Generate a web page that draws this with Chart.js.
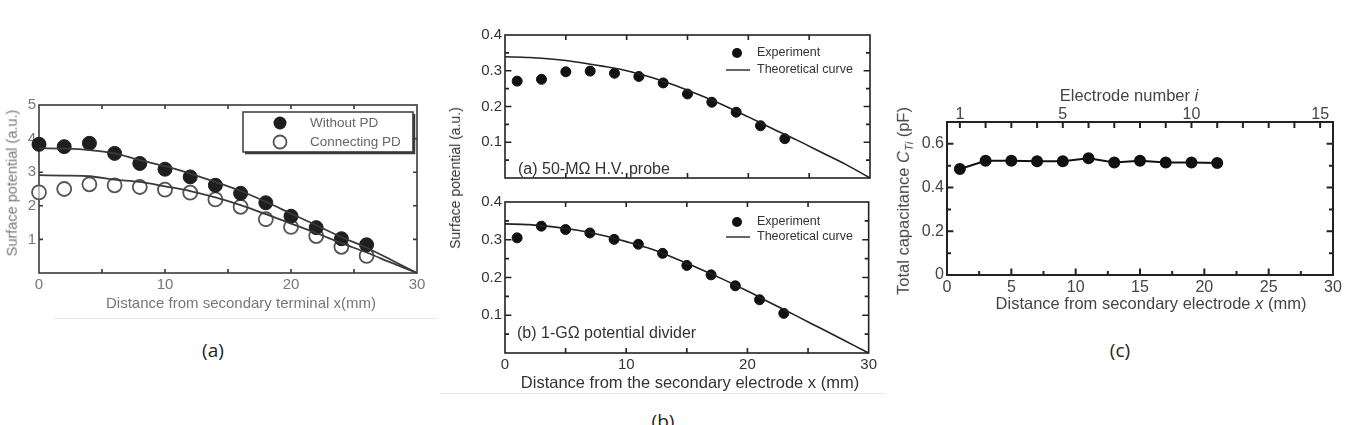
<!DOCTYPE html>
<html><head><meta charset="utf-8">
<script src="https://cdn.jsdelivr.net/npm/chart.js@4.4.1/dist/chart.umd.min.js"></script>
<style>
body{margin:0;background:#fff;width:1356px;height:425px;overflow:hidden;position:relative;font-family:"Liberation Sans",Arial,sans-serif;}
canvas{position:absolute;}
.t{position:absolute;white-space:nowrap;transform:translate(-50%,-50%);line-height:1;}
.rot{transform:translate(-50%,-50%) rotate(-90deg);}
.cap{font-family:"Open Sans",sans-serif;font-size:19px;color:#222;}
.hl{position:absolute;height:0;border-top:1px solid #e8e8e8;}
</style></head><body>
<div class="hl" style="left:53px;top:318px;width:384px"></div>
<div class="hl" style="left:440px;top:393px;width:445px"></div>
<canvas id="ca" width="430" height="230" style="left:0;top:90px"></canvas>
<canvas id="cb1" width="450" height="170" style="left:430px;top:20px"></canvas>
<canvas id="cb2" width="450" height="205" style="left:430px;top:190px"></canvas>
<canvas id="cc" width="456" height="235" style="left:890px;top:80px"></canvas>

<div class="t" style="left:241px;top:302px;font-size:15px;color:#777">Distance from secondary terminal x(mm)</div>
<div class="t rot" style="left:12px;top:183px;font-size:14.5px;color:#777">Surface potential (a.u.)</div>
<div class="t rot" style="left:455px;top:178px;font-size:14px;color:#333">Surface potential (a.u.)</div>
<div class="t" style="left:690px;top:382px;font-size:16.5px;color:#333">Distance from the secondary electrode x (mm)</div>
<div class="t" style="left:1151px;top:303px;font-size:16.5px;color:#444">Distance from secondary electrode <i>x</i> (mm)</div>
<div class="t rot" style="left:905px;top:201px;font-size:16.5px;color:#444">Total capacitance <i>C</i><sub style="font-size:11px"><i>Ti</i></sub> (pF)</div>
<div class="t" style="left:1129px;top:95px;font-size:16.5px;color:#444">Electrode number <i>i</i></div>
<div class="t cap" style="left:213px;top:350px">(a)</div>
<div class="t cap" style="left:663px;top:421px">(b)</div>
<div class="t cap" style="left:1120px;top:350px">(c)</div>

<script>
// ---- Data ----
const distA = [0,2,4,6,8,10,12,14,16,18,20,22,24,26];
const withoutPD = [3.83,3.76,3.86,3.56,3.26,3.09,2.86,2.61,2.37,2.09,1.69,1.35,1.02,0.84];
const connectingPD = [2.40,2.50,2.64,2.61,2.56,2.48,2.39,2.19,1.97,1.60,1.37,1.10,0.78,0.51];
const curveDistA = [0,2,4,6,8,10,12,14,16,18,20,22,24,26,28,30];
const curveWithoutPD = [3.71,3.70,3.66,3.56,3.36,3.18,2.96,2.71,2.44,2.12,1.77,1.42,1.07,0.75,0.38,0];
const curveConnectingPD = [2.91,2.90,2.88,2.78,2.71,2.58,2.44,2.25,2.02,1.75,1.47,1.19,0.89,0.61,0.30,0];

const distB = [1,3,5,7,9,11,13,15,17,19,21,23];
const expProbe = [0.271,0.276,0.297,0.299,0.293,0.284,0.266,0.235,0.212,0.184,0.146,0.110];
const expDivider = [0.305,0.336,0.327,0.318,0.301,0.288,0.264,0.232,0.207,0.178,0.141,0.105];
const curveDistB = [0,2,4,6,8,10,12,14,16,18,20,22,24,26,28,30];
const theoryProbe = [0.339,0.337,0.332,0.324,0.313,0.300,0.282,0.259,0.232,0.203,0.171,0.138,0.106,0.072,0.038,0];
const theoryDivider = [0.342,0.340,0.334,0.325,0.312,0.295,0.276,0.251,0.224,0.195,0.164,0.131,0.099,0.066,0.033,0];

const distC = [1,3,5,7,9,11,13,15,17,19,21];
const capacitance = [0.485,0.523,0.523,0.520,0.520,0.534,0.515,0.523,0.515,0.515,0.512];

const xTicksA = [0,10,20,30];
const yTicksA = [1,2,3,4,5];
const xTicksB = [0,10,20,30];
const yTicksB = [0.1,0.2,0.3,0.4];
const xTicksC = [0,5,10,15,20,25,30];
const yTicksC = [0,0.2,0.4,0.6];
const electrodeTicks = [1,5,10,15];

const pts = (xs, ys) => xs.map((x,i)=>({x, y: ys[i]}));
const range = (a,b,s) => { const r=[]; for(let v=a; v<=b+1e-9; v+=s) r.push(+v.toFixed(4)); return r; };

// ---- Plugins ----
const framePlugin = {
  id:'frame',
  beforeDatasetsDraw(chart, args, o){
    if(!o || !o.color) return;
    const {ctx, chartArea:a} = chart;
    ctx.save();
    ctx.strokeStyle = o.color; ctx.lineWidth = o.lw;
    ctx.beginPath();
    (o.marks||[]).forEach(m=>{
      const s = chart.scales[m.scale];
      m.vals.forEach(v=>{
        const p = s.getPixelForValue(v);
        const len = (m.major && m.major.some(q=>Math.abs(q-v)<1e-6)) ? m.len*1.6 : m.len;
        if (s.isHorizontal()){
          if (m.edges.includes('b')){ ctx.moveTo(p,a.bottom); ctx.lineTo(p,a.bottom-len); }
          if (m.edges.includes('t')){ ctx.moveTo(p,a.top); ctx.lineTo(p,a.top+len); }
        } else {
          if (m.edges.includes('l')){ ctx.moveTo(a.left,p); ctx.lineTo(a.left+len,p); }
          if (m.edges.includes('r')){ ctx.moveTo(a.right,p); ctx.lineTo(a.right-len,p); }
        }
      });
    });
    ctx.stroke();
    ctx.strokeRect(a.left, a.top, a.right-a.left, a.bottom-a.top);
    ctx.restore();
  }
};
const notePlugin = {
  id:'note',
  afterDatasetsDraw(chart, args, o){
    if(!o || !o.items) return;
    const ctx = chart.ctx;
    ctx.save();
    if (o.box){
      const b=o.box;
      ctx.fillStyle='#fff'; ctx.fillRect(b[0],b[1],b[2],b[3]);
      ctx.strokeStyle=o.boxColor; ctx.lineWidth=1.5; ctx.strokeRect(b[0],b[1],b[2],b[3]);
      ctx.lineWidth=2.5; ctx.beginPath();
      ctx.moveTo(b[0]+2,b[1]+b[3]+1); ctx.lineTo(b[0]+b[2]+1,b[1]+b[3]+1); ctx.lineTo(b[0]+b[2]+1,b[1]+2); ctx.stroke();
    }
    o.items.forEach(it=>{
      if (it.sym==='dot' || it.sym==='ring'){
        ctx.beginPath(); ctx.arc(it.sx, it.y, it.r, 0, Math.PI*2);
        if (it.sym==='dot'){ ctx.fillStyle=it.color; ctx.fill(); }
        else { ctx.strokeStyle=it.color; ctx.lineWidth=1.8; ctx.stroke(); }
      } else if (it.sym==='line'){
        ctx.beginPath(); ctx.moveTo(it.sx-it.r, it.y); ctx.lineTo(it.sx+it.r, it.y);
        ctx.strokeStyle=it.color; ctx.lineWidth=1.5; ctx.stroke();
      }
      if (it.text){
        ctx.font = it.font; ctx.fillStyle = it.textColor; ctx.textBaseline='middle'; ctx.textAlign='left';
        ctx.fillText(it.text, it.tx, it.y);
      }
    });
    ctx.restore();
  }
};
Chart.register(framePlugin, notePlugin);

// ---- Builder ----
function axis(pos, min, max, vals, size, font, color, fmt, extra){
  return Object.assign({
    type:'linear', position:pos, min, max,
    grid:{display:false, drawTicks:false}, border:{display:false},
    afterBuildTicks: s => { s.ticks = vals.map(v=>({value:v})); },
    afterFit: s => { if (pos==='left'||pos==='right') s.width=size; else s.height=size; },
    ticks:{ autoSkip:false, maxRotation:0, minRotation:0, padding:(pos==='top'?-2:3), color, font, callback: fmt }
  }, extra||{});
}
function make(id, box, area, datasets, scales, plugins, hasTop){
  return new Chart(document.getElementById(id), {
    type:'scatter',
    data:{datasets},
    options:{
      responsive:false, animation:false, events:[],
      layout:{padding:{left:0, top: hasTop?0:(area.T-box.top), right: box.left+box.w-area.R, bottom:0}},
      scales,
      plugins: Object.assign({legend:{display:false}, tooltip:{enabled:false}}, plugins)
    }
  });
}

// ---- Panel (a) ----
{
  const box={left:0, top:90, w:430, h:230}, area={L:39, T:105, R:417, B:273};
  const f={family:'Liberation Sans', size:15}, c='#777';
  make('ca', box, area, [
    {data:pts(curveDistA, curveWithoutPD), showLine:true, pointRadius:0, borderColor:'#3a3a3a', borderWidth:1.8, cubicInterpolationMode:'monotone', clip:false},
    {data:pts(curveDistA, curveConnectingPD), showLine:true, pointRadius:0, borderColor:'#3a3a3a', borderWidth:1.8, cubicInterpolationMode:'monotone', clip:false},
    {label:'Without PD', data:pts(distA, withoutPD), pointRadius:7, backgroundColor:'#1e1e1e', borderColor:'#1e1e1e', borderWidth:1, clip:false},
    {label:'Connecting PD', data:pts(distA, connectingPD), pointRadius:7, backgroundColor:'rgba(255,255,255,0.6)', borderColor:'#555', borderWidth:1.8, clip:false}
  ], {
    x: axis('bottom',0,30,xTicksA, box.top+box.h-area.B, f, c, v=>String(v)),
    y: axis('left',0,5,yTicksA, area.L-box.left, f, c, v=>String(v))
  }, {
    frame:{color:'#3a3a3a', lw:1.6, marks:[
      {scale:'x', vals:range(5,25,5), len:4, edges:['b','t']},
      {scale:'y', vals:range(1,4,1), len:4, edges:['l','r']}
    ]},
    note:{box:[243,22,170,40], boxColor:'#3a3a3a', items:[
      {sym:'dot', sx:280, y:33, r:6.5, color:'#1e1e1e', text:'Without PD', tx:310, font:'13.5px "Liberation Sans"', textColor:'#666'},
      {sym:'ring', sx:280, y:52, r:6.5, color:'#555', text:'Connecting PD', tx:310, font:'13.5px "Liberation Sans"', textColor:'#666'}
    ]}
  });
}

// ---- Panel (b) top ----
{
  const box={left:430, top:20, w:450, h:170}, area={L:505, T:35, R:870, B:186};
  const f={family:'Liberation Sans', size:15}, c='#333';
  make('cb1', box, area, [
    {label:'Theoretical curve', data:pts(curveDistB, theoryProbe), showLine:true, pointRadius:0, borderColor:'#222', borderWidth:1.6, cubicInterpolationMode:'monotone', clip:false},
    {label:'Experiment', data:pts(distB, expProbe), pointRadius:5, backgroundColor:'#111', borderColor:'#111', clip:false}
  ], {
    x: axis('bottom',0,30,[], box.top+box.h-area.B, f, c, v=>'', {ticks:{display:false}}),
    y: axis('left',0,0.4,yTicksB, area.L-box.left, f, c, v=>v.toFixed(1))
  }, {
    frame:{color:'#222', lw:1.6, marks:[
      {scale:'x', vals:range(5,25,5), len:5, edges:['b','t']},
      {scale:'y', vals:range(0.05,0.35,0.05), major:[0.1,0.2,0.3], len:4, edges:['l','r']}
    ]},
    note:{items:[
      {sym:'dot', sx:307, y:33, r:5, color:'#111', text:'Experiment', tx:327, font:'12.5px "Liberation Sans"', textColor:'#333'},
      {sym:'line', sx:308, y:50, r:12, color:'#333', text:'Theoretical curve', tx:327, font:'12.5px "Liberation Sans"', textColor:'#333'},
      {text:'(a) 50-MΩ H.V. probe', tx:88, y:150, font:'16px "Liberation Sans"', textColor:'#333'}
    ]}
  });
}

// ---- Panel (b) bottom ----
{
  const box={left:430, top:190, w:450, h:205}, area={L:505, T:201, R:869, B:353};
  const f={family:'Liberation Sans', size:15}, c='#333';
  make('cb2', box, area, [
    {label:'Theoretical curve', data:pts(curveDistB, theoryDivider), showLine:true, pointRadius:0, borderColor:'#222', borderWidth:1.6, cubicInterpolationMode:'monotone', clip:false},
    {label:'Experiment', data:pts(distB, expDivider), pointRadius:5, backgroundColor:'#111', borderColor:'#111', clip:false}
  ], {
    x: axis('bottom',0,30,xTicksB, box.top+box.h-area.B, f, c, v=>String(v)),
    y: axis('left',0,0.4,yTicksB, area.L-box.left, f, c, v=>v.toFixed(1))
  }, {
    frame:{color:'#222', lw:1.6, marks:[
      {scale:'x', vals:range(5,25,5), len:5, edges:['b','t']},
      {scale:'y', vals:range(0.05,0.35,0.05), major:[0.1,0.2,0.3], len:4, edges:['l','r']}
    ]},
    note:{items:[
      {sym:'dot', sx:307, y:32, r:5, color:'#111', text:'Experiment', tx:327, font:'12.5px "Liberation Sans"', textColor:'#333'},
      {sym:'line', sx:308, y:47, r:12, color:'#333', text:'Theoretical curve', tx:327, font:'12.5px "Liberation Sans"', textColor:'#333'},
      {text:'(b) 1-GΩ potential divider', tx:87, y:144, font:'16px "Liberation Sans"', textColor:'#333'}
    ]}
  });
}

// ---- Panel (c) ----
{
  const box={left:890, top:80, w:456, h:235}, area={L:947, T:122, R:1333, B:275};
  const f={family:'Liberation Sans', size:16}, c='#444';
  make('cc', box, area, [
    {data:pts(distC, capacitance), showLine:true, pointRadius:5, backgroundColor:'#111', borderColor:'#111', borderWidth:2, clip:false}
  ], {
    x: axis('bottom',0,30,xTicksC, box.top+box.h-area.B, f, c, v=>String(v)),
    x2: axis('top',0.5,15.5,electrodeTicks, area.T-box.top, f, c, v=>String(v)),
    y: axis('left',0,0.7,yTicksC, area.L-box.left, f, c, v=>v===0?'0':v.toFixed(1))
  }, {
    frame:{color:'#222', lw:2, marks:[
      {scale:'x', vals:range(2.5,27.5,2.5), major:[5,10,15,20,25], len:4, edges:['b']},
      {scale:'x2', vals:range(1,15,1), len:6, edges:['t']},
      {scale:'y', vals:range(0.1,0.6,0.1), major:[0.2,0.4,0.6], len:4, edges:['l','r']}
    ]}
  }, true);
}
</script>
</body></html>
